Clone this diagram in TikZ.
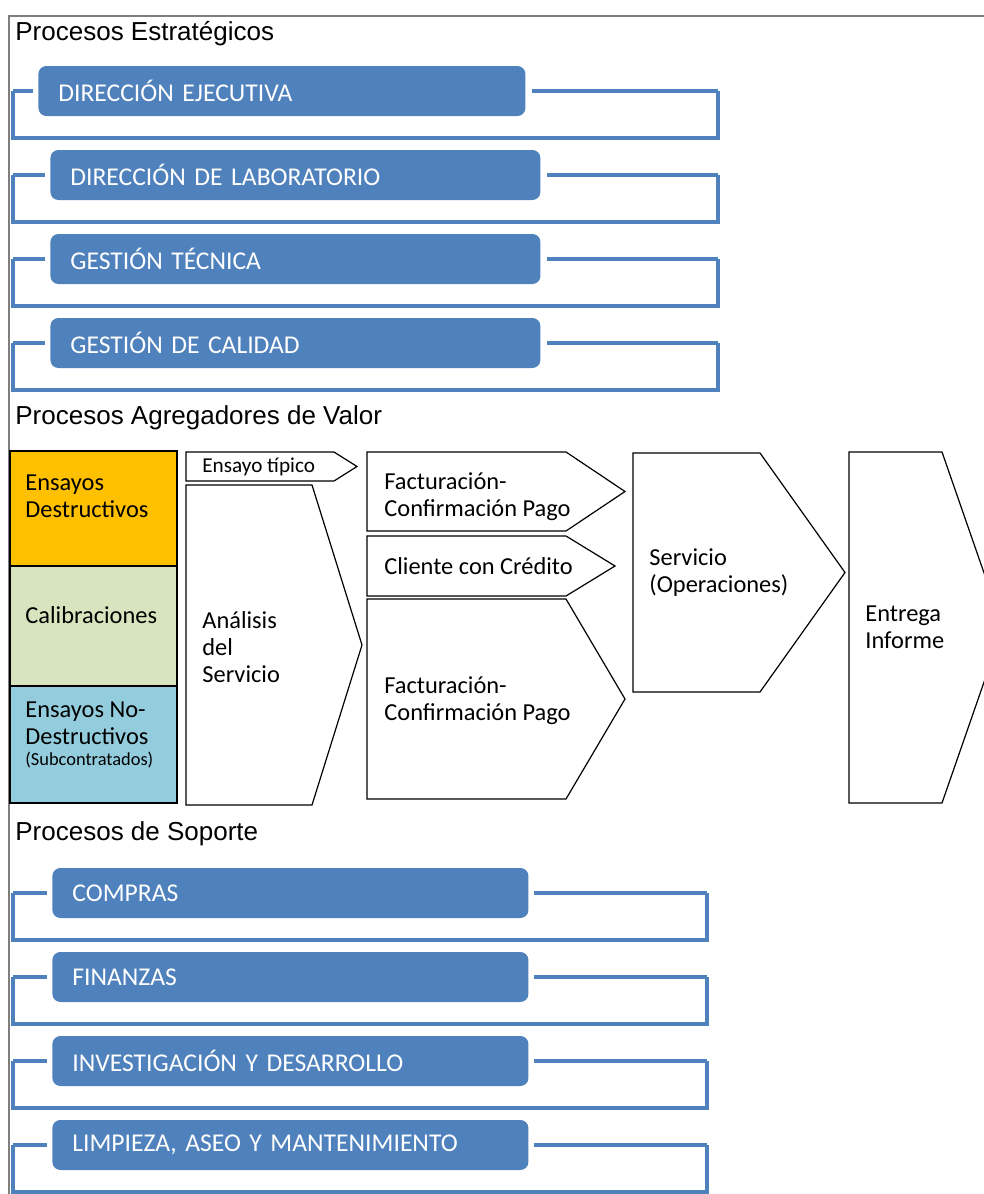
\documentclass[tikz,border=0pt]{standalone}
\usepackage{fontspec}
\setmainfont{Carlito}
\newfontfamily\arialfont{Liberation Sans}
\usepackage{tikz}
\usetikzlibrary{positioning, calc}
\usepackage{xcolor}
\definecolor{procblue}{HTML}{4F81BD}
\definecolor{ensorange}{HTML}{FFC000}
\definecolor{calgreen}{HTML}{D7E4BD}
\definecolor{ndtblue}{HTML}{93CDDD}
\definecolor{framegray}{HTML}{7F7F7F}

\tikzset{
  proc/.style={fill=procblue, rounded corners=4pt, text=white, anchor=west, align=left,
    inner xsep=10pt, inner ysep=0pt, minimum height=25pt, font=\fontsize{12.8}{14}\selectfont},
  bracket/.style={draw=procblue, line width=1.6pt},
  title/.style={anchor=base west, inner sep=0pt, font=\arialfont\fontsize{13}{15}\selectfont},
  area/.style={draw=black, line width=0.6pt, anchor=north west, minimum width=83.5pt, inner sep=0pt, outer sep=0pt},
  chev/.style={draw=black, line width=0.6pt, fill=white},
  lbl/.style={anchor=west, align=left, inner sep=0pt, font=\fontsize{12.2}{13.5}\selectfont},
}

% pentagon arrow: name, left, top, shoulder, tip, bottom
\newcommand{\chevshape}[6]{%
  \draw[chev] (#2,#3) -- (#4,#3) -- (#5,{(#3+#6)/2}) -- (#4,#6) -- (#2,#6) -- cycle;
  \coordinate (#1) at (#2,{(#3+#6)/2});
}

\begin{document}
\begin{tikzpicture}[x=0.5pt, y=-0.5pt]
  \clip (0,0) rectangle (984,1194);
  \draw[framegray, line width=0.8pt] (9,1194) -- (9,16) -- (984,16);

  % titulos
  \node[title] (tstrat) at (15,40) {Procesos Estratégicos};
  \node[title] (tvalor) at (15,424) {Procesos Agregadores de Valor};
  \node[title] (tsoporte) at (15,840) {Procesos de Soporte};

  % procesos estrategicos
  \foreach \y in {91, 175, 259, 343}{
    \draw[bracket] (13,\y) |- (718,\y+47) -- (718,\y);
  }
  \node[proc, text width=223.5pt] (dej) at (38,91) {DIRECCIÓN EJECUTIVA};
  \node[proc, text width=225pt] (dlab) at (50,175) {DIRECCIÓN DE LABORATORIO};
  \node[proc, text width=225pt] (gtec) at (50,259) {GESTIÓN TÉCNICA};
  \node[proc, text width=225pt] (gcal) at (50,343) {GESTIÓN DE CALIDAD};
  \foreach \nm/\y in {dej/91, dlab/175, gtec/259, gcal/343}{
    \draw[bracket] ([xshift=-2.5pt]\nm.west) -- (13,\y);
    \draw[bracket] ([xshift=3pt]\nm.east) -- (718,\y);
  }

  % procesos agregadores de valor
  \node[area, fill=ensorange, minimum height=57.5pt] (ensd) at (10,451) {};
  \node[area, fill=calgreen, minimum height=60pt, below=0pt of ensd] (calib) {};
  \node[area, fill=ndtblue, minimum height=58.5pt, below=0pt of calib] (ndt) {};
  \node[lbl] (ensdt) at ([xshift=7.5pt, yshift=6pt]ensd.west) {Ensayos\\Destructivos};
  \node[lbl] (calibt) at ([xshift=7.5pt, yshift=5.5pt]calib.west) {Calibraciones};
  \node[lbl] (ndtt) at ([xshift=7.5pt, yshift=10.75pt]ndt.west) {Ensayos No-\\Destructivos};
  \node[lbl, font=\fontsize{9.2}{10}\selectfont] (ndts) at ([xshift=7.5pt, yshift=-7.75pt]ndt.west) {(Subcontratados)};

  \chevshape{tipico}{186}{452}{334}{357}{481}
  \chevshape{analisis}{186}{485}{312}{362}{805}
  \chevshape{fact1}{367}{452}{566}{625}{531}
  \chevshape{credito}{367}{536}{566}{615}{596}
  \chevshape{fact2}{367}{599}{566}{625}{799}
  \chevshape{servicio}{633}{453}{760}{845}{692}
  \chevshape{entrega}{849}{452}{942}{1003}{803}

  \node[lbl, font=\fontsize{10.6}{12}\selectfont, right=8pt of tipico] (tipicot) {Ensayo típico};
  \node[lbl, right=8pt of analisis, yshift=-1pt] (analisist) {Análisis\\del\\Servicio};
  \node[lbl, right=8.5pt of fact1, yshift=-2.5pt] (fact1t) {Facturación-\\Confirmación Pago};
  \node[lbl, right=8.5pt of credito] (creditot) {Cliente con Crédito};
  \node[lbl, right=8.5pt of fact2, yshift=-1pt] (fact2t) {Facturación-\\Confirmación Pago};
  \node[lbl, right=8pt of servicio] (serviciot) {Servicio\\(Operaciones)};
  \node[lbl, right=8pt of entrega] (entregat) {Entrega\\Informe};

  % procesos de soporte
  \foreach \y in {893, 977, 1061, 1145}{
    \draw[bracket] (13,\y) |- (707,\y+47) -- (707,\y);
  }
  \node[proc, text width=218pt] (compras) at (52,893) {COMPRAS};
  \node[proc, text width=218pt] (finanzas) at (52,977) {FINANZAS};
  \node[proc, text width=218pt] (idi) at (52,1061) {INVESTIGACIÓN Y DESARROLLO};
  \node[proc, text width=218pt] (limpieza) at (52,1145) {LIMPIEZA, ASEO Y MANTENIMIENTO};
  \foreach \nm/\y in {compras/893, finanzas/977, idi/1061, limpieza/1145}{
    \draw[bracket] ([xshift=-2.5pt]\nm.west) -- (13,\y);
    \draw[bracket] ([xshift=2.5pt]\nm.east) -- (707,\y);
  }
\end{tikzpicture}
\end{document}
